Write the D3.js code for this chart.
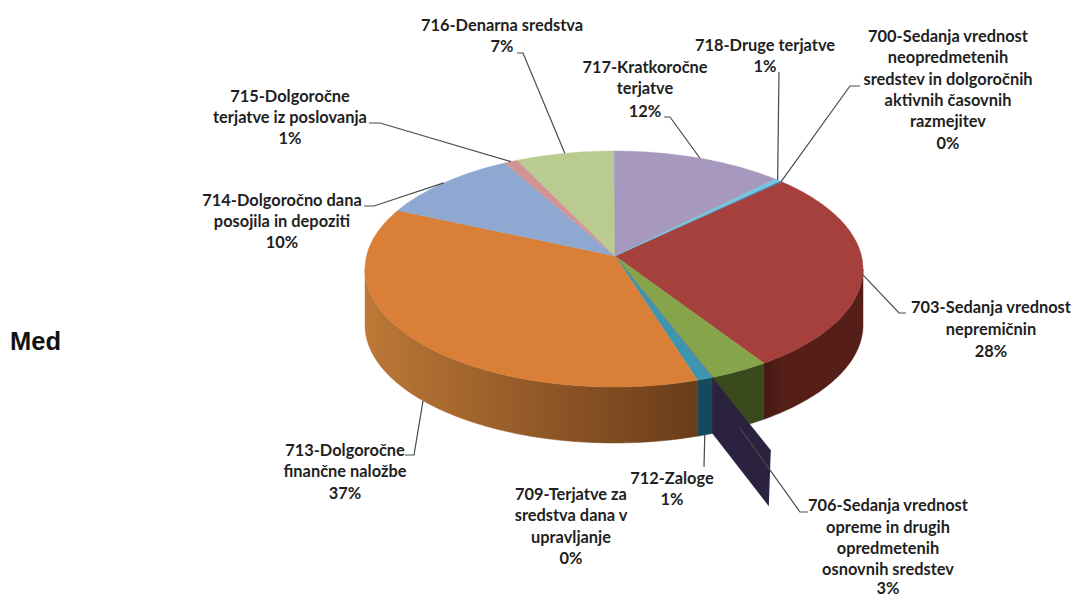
<!DOCTYPE html>
<html><head><meta charset="utf-8">
<script src="https://cdn.jsdelivr.net/npm/d3@7"></script>
<style>html,body{margin:0;padding:0;background:#fff;overflow:hidden}svg{display:block}</style>
</head><body><div id="c"></div>
<script>
// Data, in the chart's own series order
const accounts = ["700","703","706","709","712","713","714","715","716","717","718"];
const shares = [0.2,27.9,3.8,0.05,1.0,38.7,9.5,0.9,6.35,11.2,0.4];
const labelLines = [
 ["700-Sedanja vrednost","neopredmetenih","sredstev in dolgoročnih","aktivnih časovnih","razmejitev","0%"],
 ["703-Sedanja vrednost","nepremičnin","28%"],
 ["706-Sedanja vrednost","opreme in drugih","opredmetenih","osnovnih sredstev","3%"],
 ["709-Terjatve za","sredstva dana v","upravljanje","0%"],
 ["712-Zaloge","1%"],
 ["713-Dolgoročne","finančne naložbe","37%"],
 ["714-Dolgoročno dana","posojila in depoziti","10%"],
 ["715-Dolgoročne","terjatve iz poslovanja","1%"],
 ["716-Denarna sredstva","7%"],
 ["717-Kratkoročne","terjatve","12%"],
 ["718-Druge terjatve","1%"]
];
const sideTitle = "Med";

// Styles
const topColors = ["#3f7db8","#a5403d","#86a54b","#6e548d","#3d96ae","#d97f38","#8fa8d2","#d29493","#bacb92","#a798bd","#74c5de"];
const wallFrom  = ["#2a5478","#461813","#3a4a1c","#2b2240","#17495c","#bc7836","#5c6f8c","#8c6160","#7c8761","#6f657e","#4d8394"];
const wallTo    = ["#2a5478","#551e18","#3a4a1c","#2b2240","#17495c","#6a3c1a","#5c6f8c","#8c6160","#7c8761","#6f657e","#4d8394"];

// Layout
const W=1074,H=596;
const geo={cx:614,cy:269,rx:249,ry:118,apexX:615,apexY:256,depth:56,startDeg:41.8,explode:0.6,explodedIdx:3};
const labelPlace = [
 {x:948,y:[42,63,85,106,127,149],bend:[[850,86],[860,86]]},
 {x:991,y:[313,335,357],bend:[[899,313],[906,313]]},
 {x:888,y:[511,533,554,575,594],bend:[[800,512],[808,512]],fromWall:true},
 {x:571,y:[500,521,543,564],bend:null},
 {x:672,y:[484,505],bend:[[704,467]],fromWall:true},
 {x:345,y:[456,477,499],bend:[[414,455],[405,455]],fromWall:true},
 {x:282,y:[206,227,248],bend:[[374,206],[364,206]]},
 {x:290,y:[102,123,144],bend:[[380,123],[369,123]]},
 {x:502,y:[31,52],bend:[[523,53],[517,53]]},
 {x:645,y:[73,94,117],bend:[[670,117],[664,117]]},
 {x:765,y:[51,72],bend:[[779,72]]}
];

const rad=d=>d*Math.PI/180;
const start=rad(geo.startDeg);
const pie=d3.pie().sort(null).startAngle(start).endAngle(start+2*Math.PI);
const arcs=pie(shares);
const sx=d3.scaleLinear().domain([-1,1]).range([geo.cx-geo.rx,geo.cx+geo.rx]);
const sy=d3.scaleLinear().domain([-1,1]).range([geo.cy-geo.ry,geo.cy+geo.ry]);
const rim=(a,dy=0)=>[sx(Math.sin(a)),sy(-Math.cos(a))+dy];
const samples=(a0,a1)=>{const n=Math.max(2,Math.ceil((a1-a0)/rad(1)));return d3.range(n+1).map(i=>a0+(a1-a0)*i/n);};
const line=d3.line();

const svg=d3.select("#c").append("svg").attr("width",W).attr("height",H).attr("viewBox",`0 0 ${W} ${H}`);
const defs=svg.append("defs");
arcs.forEach((d,i)=>{
  const g=defs.append("linearGradient").attr("id","w"+i).attr("gradientUnits","userSpaceOnUse")
    .attr("x1",rim(d.endAngle)[0]).attr("x2",rim(d.startAngle)[0]).attr("y1",0).attr("y2",0);
  g.append("stop").attr("offset",0).attr("stop-color",wallFrom[i]);
  g.append("stop").attr("offset",1).attr("stop-color",wallTo[i]);
});
defs.select("#w5").attr("x1",sx(-1));

// side walls: only the front half of the rim can be seen
const walls=svg.append("g");
arcs.forEach((d,i)=>{
  const a=Math.max(d.startAngle,rad(90)), b=Math.min(d.endAngle,rad(270));
  if(b<=a) return;
  const s=samples(a,b);
  const pts=s.map(t=>rim(t)).concat(s.slice().reverse().map(t=>rim(t,geo.depth)));
  walls.append("path").attr("d",line(pts)+"Z").attr("fill",`url(#w${i})`).attr("stroke",`url(#w${i})`).attr("stroke-width",0.5);
});

// top faces
const tops=svg.append("g");
arcs.forEach((d,i)=>{
  const pts=[[geo.apexX,geo.apexY]].concat(samples(d.startAngle,d.endAngle).map(t=>rim(t)));
  tops.append("path").attr("d",line(pts)+"Z").attr("fill",topColors[i]).attr("stroke",topColors[i]).attr("stroke-width",0.4);
});

// the exploded near-zero slice only shows its side face
{
  const d=arcs[geo.explodedIdx], a=(d.startAngle+d.endAngle)/2, p=rim(a);
  const out=[p[0]+geo.explode*(p[0]-geo.apexX), p[1]+geo.explode*(p[1]-geo.apexY)];
  const pts=[p,out,[out[0]-2,out[1]+geo.depth],[p[0],p[1]+geo.depth]];
  svg.append("path").attr("d",line(pts)+"Z").attr("fill",wallFrom[geo.explodedIdx]);
}

// leader lines
const leaders=svg.append("g").attr("fill","none").attr("stroke","#4a4a4a").attr("stroke-width",1.2);
arcs.forEach((d,i)=>{
  const pl=labelPlace[i]; if(!pl.bend) return;
  const a=(d.startAngle+d.endAngle)/2;
  const p=rim(a,pl.fromWall?geo.depth:0);
  leaders.append("path").attr("d",line([p].concat(pl.bend)));
});

// labels
const labels=svg.append("g").attr("font-family","Lato, sans-serif").attr("font-weight",700).attr("font-size",16.4)
  .attr("fill","#1f1f1f").attr("text-anchor","middle");
labelLines.forEach((ls,i)=>{
  const pl=labelPlace[i];
  ls.forEach((t,j)=>labels.append("text").attr("x",pl.x).attr("y",pl.y[j]).text(t));
});
svg.append("text").attr("x",10).attr("y",350).attr("font-family","'Liberation Sans',Arial,sans-serif")
  .attr("font-weight",700).attr("font-size",25.5).attr("fill","#111").text(sideTitle);
</script></body></html>
